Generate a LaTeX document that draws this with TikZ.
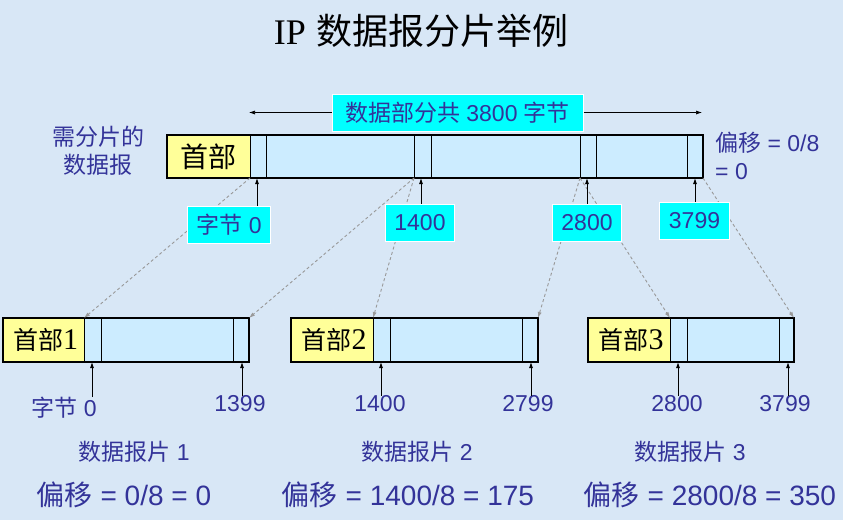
\documentclass[tikz,border=0pt]{standalone}
\usepackage{fontspec}
\setmainfont{Liberation Sans}
\newfontfamily\cjk{Noto Sans CJK SC}
\newfontfamily\serifnum{Liberation Serif}
\newcommand{\zh}[1]{{\cjk #1}}
\usetikzlibrary{arrows.meta,positioning}
\definecolor{paper}{HTML}{D8E7F6}
\definecolor{ink}{HTML}{333399}
\definecolor{payload}{HTML}{CCECFF}
\definecolor{hdrfill}{HTML}{FFFF99}
\definecolor{tagfill}{HTML}{00FFFF}
\definecolor{guide}{HTML}{999999}
\tikzset{>={Latex[length=6pt,width=4pt]},
  every node/.style={inner sep=0pt},
  bluetext/.style={text=ink,font=\fontsize{23}{28}\selectfont},
  bigtext/.style={text=ink,font=\fontsize{28}{32}\selectfont},
  tagbox/.style={bluetext,fill=tagfill,draw=white,line width=1pt,inner xsep=9pt,minimum height=37pt},
  cell/.style={draw=black,line width=1pt},
  pointer/.style={->,draw=black,line width=.8pt},
  split/.style={->,draw=guide,line width=.9pt,dash pattern=on 3pt off 2.5pt}}

\begin{document}
\begin{tikzpicture}[x=1pt,y=-1pt]
\fill[paper] (0,0) rectangle (843,520);
\useasboundingbox (0,0) rectangle (843,520);

\node[font=\fontsize{36}{40}\selectfont] (title) at (421,31) {{\serifnum IP} \zh{数据报分片举例}};

% datagram before splitting
\fill[hdrfill] (167,135) rectangle (250,178);
\fill[payload] (250,135) rectangle (703,178);
\foreach \x in {250,266,414,431,580,596,687} \draw[cell] (\x,135) -- (\x,178);
\draw[line width=2.6pt] (167,135) rectangle (703,178);
\node[font=\cjk\fontsize{28}{30}\selectfont] (hd) at (208.5,157) {首部};
\coordinate (c0) at (250,178); \coordinate (c1) at (414,178);
\coordinate (c2) at (580,178); \coordinate (c3) at (703,178);
\coordinate (p0) at (257,178); \coordinate (p1) at (421,178);
\coordinate (p2) at (587,178); \coordinate (p3) at (695,178);

\node[tagbox,minimum width=251pt] (span) at (457.5,112.5) {\zh{数据部分共} 3800 \zh{字节}};
\coordinate (spanL) at (249,112.5); \coordinate (spanR) at (702,112.5);
\draw[pointer,line width=.6pt] (span) -- (spanL); \draw[pointer,line width=.6pt] (span) -- (spanR);

\node[bluetext,align=center] (whole) at (98,151) {\zh{需分片的}\\\zh{数据报}};
\node[bluetext,align=left,anchor=west] (off0) at (715,156) {\zh{偏移} = 0/8\\= 0};

% fragments
\foreach \n/\l/\h/\a/\b/\r in {1/3/84/101/233/249, 2/291/373/390/522/538, 3/588/670/687/779/794}{
  \fill[hdrfill] (\l,318) rectangle (\h,362);
  \fill[payload] (\h,318) rectangle (\r,362);
  \draw[cell] (\h,318) -- (\h,362) (\a,318) -- (\a,362) (\b,318) -- (\b,362);
  \draw[line width=1.2pt] (\l,318) rectangle (\r,362);
  \node[font=\fontsize{25}{28}\selectfont] (h\n) at ({(\l+\h)/2+2},340) {\zh{首部}{\serifnum\fontsize{30}{30}\selectfont\n}};
  \coordinate (s\n) at (\h,318); \coordinate (e\n) at (\r,318);
  \coordinate (u\n) at (\a-9,362); \coordinate (v\n) at (\b+9,362);
}

\draw[split] (c0) -- (s1);
\draw[split] (c1) -- (e1);
\draw[split] (c1) -- (s2);
\draw[split] (c2) -- (e2);
\draw[split] (c2) -- (s3);
\draw[split] (c3) -- (e3);

\node[tagbox] (b0) at (229,225) {\zh{字节} 0};
\node[tagbox] (b1) at (420,222.5) {1400};
\node[tagbox] (b2) at (587,222.5) {2800};
\node[tagbox] (b3) at (694.5,220.5) {3799};
\draw[pointer] (b0.north -| p0) -- (p0);
\draw[pointer] (b1.north -| p1) -- (p1);
\draw[pointer] (b2.north -| p2) -- (p2);
\draw[pointer] (b3.north -| p3) -- (p3);

\node[bluetext] (l1) at (64,408) {\zh{字节} 0};
\node[bluetext] (r1) at (240,404) {1399};
\node[bluetext] (l2) at (380,404) {1400};
\node[bluetext] (r2) at (528,404) {2799};
\node[bluetext] (l3) at (677,404) {2800};
\node[bluetext] (r3) at (785,404) {3799};
\draw[pointer] (u1 |- 0,397) -- (u1);
\draw[pointer] (v1 |- r1.north) -- (v1);
\draw[pointer] (u2 |- l2.north) -- (u2);
\draw[pointer] (v2 |- r2.north) -- (v2);
\draw[pointer] (u3 |- l3.north) -- (u3);
\draw[pointer] (v3 |- r3.north) -- (v3);

\node[bluetext] (f1) at (134,452) {\zh{数据报片} 1};
\node[bluetext] (f2) at (417,452) {\zh{数据报片} 2};
\node[bluetext] (f3) at (690,452) {\zh{数据报片} 3};
\node[bigtext] (o1) at (124,495) {\zh{偏移} = 0/8 = 0};
\node[bigtext] (o2) at (408,495) {\zh{偏移} = 1400/8 = 175};
\node[bigtext] (o3) at (710,495) {\zh{偏移} = 2800/8 = 350};
\end{tikzpicture}
\end{document}
